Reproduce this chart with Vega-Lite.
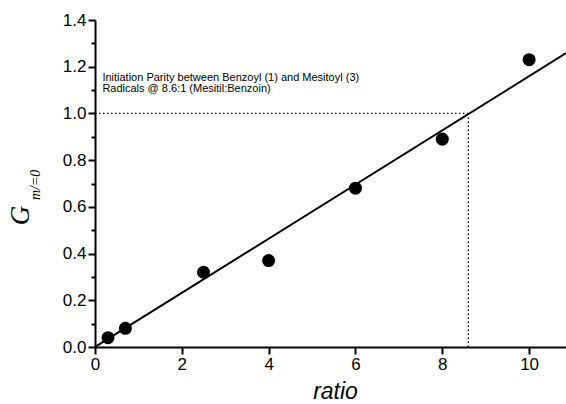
{
  "$schema": "https://vega.github.io/schema/vega-lite/v6.json",
  "autosize": "none",
  "width": 471,
  "height": 327,
  "padding": {"left": 95, "top": 20, "right": 0, "bottom": 57},
  "background": "white",
  "config": {"view": {"stroke": null}, "font": "Liberation Sans"},
  "datasets": {
    "points": [
      {"ratio": 0.3, "G": 0.04},
      {"ratio": 0.7, "G": 0.08},
      {"ratio": 2.5, "G": 0.32},
      {"ratio": 4.0, "G": 0.37},
      {"ratio": 6.0, "G": 0.68},
      {"ratio": 8.0, "G": 0.89},
      {"ratio": 10.0, "G": 1.23}
    ],
    "fit": [
      {"ratio": 0, "G": 0.0},
      {"ratio": 10.85, "G": 1.258}
    ],
    "guides": [
      {"x1": 0, "x2": 8.6, "y1": 1.0, "y2": 1.0},
      {"x1": 8.6, "x2": 8.6, "y1": 0.0, "y2": 1.0}
    ],
    "notes": [
      {"ratio": 0.17, "G": 1.150, "label": "Initiation Parity between Benzoyl (1) and Mesitoyl (3)"},
      {"ratio": 0.17, "G": 1.105, "label": "Radicals @ 8.6:1 (Mesitil:Benzoin)"}
    ],
    "sub": [
      {"ratio": -1.37, "G": 0.694, "label": "m/=0"}
    ]
  },
  "resolve": {"axis": {"y": "independent", "x": "independent"}},
  "layer": [
    {
      "data": {"name": "points"},
      "mark": {"type": "point", "filled": true, "color": "black", "opacity": 1, "size": 170, "shape": "circle"},
      "encoding": {
        "x": {
          "field": "ratio", "type": "quantitative",
          "scale": {"domain": [0, 10.85], "nice": false, "zero": false},
          "axis": {
            "values": [0, 2, 4, 6, 8, 10], "format": "d", "grid": false,
            "domainColor": "black", "domainWidth": 2, "tickColor": "black", "tickWidth": 2, "tickSize": 7,
            "labelFont": "Liberation Sans", "labelFontSize": 17, "labelColor": "black", "labelPadding": 2, "labelFlush": false,
            "title": "ratio", "titleFont": "Liberation Sans", "titleFontStyle": "italic", "titleFontWeight": "normal",
            "titleFontSize": 23, "titleColor": "black", "titleX": 240, "titleY": 51, "titleBaseline": "alphabetic"
          }
        },
        "y": {
          "field": "G", "type": "quantitative",
          "scale": {"domain": [0, 1.4], "nice": false, "zero": false},
          "axis": {
            "orient": "left",
            "values": [0, 0.2, 0.4, 0.6, 0.8, 1.0, 1.2, 1.4], "format": ".1f", "grid": false,
            "domainColor": "black", "domainWidth": 2, "tickColor": "black", "tickWidth": 2, "tickSize": 7,
            "labelFont": "Liberation Sans", "labelFontSize": 17, "labelColor": "black", "labelPadding": 2, "labelFlush": false,
            "title": "G", "titleFont": "Liberation Serif", "titleFontStyle": "italic", "titleFontWeight": "normal",
            "titleFontSize": 27, "titleColor": "black", "titleAngle": 270, "titleX": -75, "titleY": 195,
            "titleAlign": "center", "titleBaseline": "middle"
          }
        }
      }
    },
    {
      "data": {"name": "points"},
      "mark": {"type": "point", "opacity": 0},
      "encoding": {
        "x": {"field": "ratio", "type": "quantitative", "axis": null},
        "y": {
          "field": "G", "type": "quantitative",
          "axis": {
            "orient": "left",
            "values": [0.1, 0.3, 0.5, 0.7, 0.9, 1.1, 1.3], "labels": false, "domain": false, "grid": false,
            "tickColor": "black", "tickWidth": 2, "tickSize": 4, "title": null
          }
        }
      }
    },
    {
      "data": {"name": "fit"},
      "mark": {"type": "line", "color": "black", "strokeWidth": 2, "clip": true},
      "encoding": {
        "x": {"field": "ratio", "type": "quantitative", "axis": null},
        "y": {"field": "G", "type": "quantitative", "axis": null}
      }
    },
    {
      "data": {"name": "guides"},
      "mark": {"type": "rule", "color": "black", "strokeWidth": 1.3, "strokeDash": [1.5, 2.5]},
      "encoding": {
        "x": {"field": "x1", "type": "quantitative", "axis": null},
        "x2": {"field": "x2"},
        "y": {"field": "y1", "type": "quantitative", "axis": null},
        "y2": {"field": "y2"}
      }
    },
    {
      "data": {"name": "notes"},
      "mark": {"type": "text", "align": "left", "baseline": "middle", "font": "Liberation Sans", "fontSize": 11, "color": "black"},
      "encoding": {
        "x": {"field": "ratio", "type": "quantitative", "axis": null},
        "y": {"field": "G", "type": "quantitative", "axis": null},
        "text": {"field": "label"}
      }
    },
    {
      "data": {"name": "sub"},
      "mark": {"type": "text", "align": "center", "baseline": "middle", "angle": 270, "font": "Liberation Serif", "fontStyle": "italic", "fontSize": 14, "color": "black"},
      "encoding": {
        "x": {"field": "ratio", "type": "quantitative", "axis": null},
        "y": {"field": "G", "type": "quantitative", "axis": null},
        "text": {"field": "label"}
      }
    }
  ]
}
